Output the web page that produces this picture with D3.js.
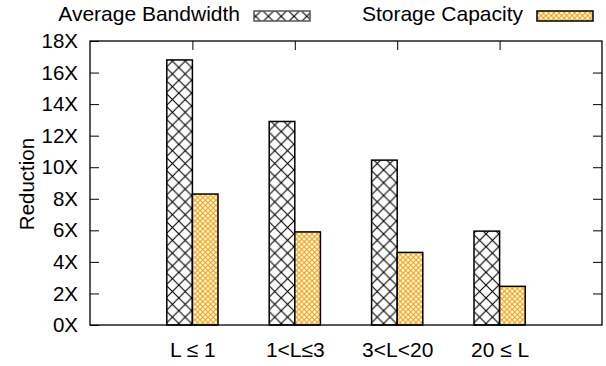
<!DOCTYPE html>
<html><head><meta charset="utf-8">
<script src="https://cdn.jsdelivr.net/npm/d3@7"></script>
<style>body{margin:0;background:#fff}svg{display:block}text{font-family:"Liberation Sans",Arial,sans-serif;fill:#000}</style>
</head><body><svg id="c" width="606" height="366"></svg>
<script>
const categories = ["L \u2264 1", "1<L\u22643", "3<L<20", "20 \u2264 L"];
const seriesNames = ["Average Bandwidth", "Storage Capacity"];
const avgBandwidth = [16.8, 12.9, 10.45, 5.95];
const storageCapacity = [8.3, 5.9, 4.6, 2.45];
const yTicks = [0, 2, 4, 6, 8, 10, 12, 14, 16, 18];

const svg = d3.select("#c");
const L = 90, R = 602, T = 41, B = 325;
const x = d3.scaleLinear().domain([0, 5]).range([L, R]);
const y = d3.scaleLinear().domain([0, 18]).range([B, T]);
const orange = "#F4A20A";

const defs = svg.append("defs");
const pk = 12.8;
const p1 = defs.append("pattern").attr("id", "hatchK").attr("patternUnits", "userSpaceOnUse")
  .attr("width", pk).attr("height", pk).attr("x", 166).attr("y", 3.5);
p1.append("rect").attr("width", pk).attr("height", pk).attr("fill", "#fff");
p1.append("path").attr("d", `M0,0L${pk},${pk}M0,${pk}L${pk},0`).attr("stroke", "#000").attr("stroke-width", 1.1);
const po = 5.2;
const p2 = defs.append("pattern").attr("id", "hatchO").attr("patternUnits", "userSpaceOnUse")
  .attr("width", po).attr("height", po);
p2.append("rect").attr("width", po).attr("height", po).attr("fill", "#fff");
p2.append("path").attr("d", `M0,0L${po},${po}M0,${po}L${po},0`).attr("stroke", orange).attr("stroke-width", 1.1);
p2.append("circle").attr("cx", po / 2).attr("cy", po / 2).attr("r", 0.9).attr("fill", orange);

// bars
const bw = (x(1) - x(0)) * 0.25;
const series = [
  {vals: avgBandwidth, fill: "url(#hatchK)", off: -1},
  {vals: storageCapacity, fill: "url(#hatchO)", off: 0}
];
series.forEach(s => {
  svg.append("g").selectAll("rect").data(s.vals).join("rect")
    .attr("x", (d, i) => x(i + 1) + s.off * bw)
    .attr("y", d => y(d))
    .attr("width", bw)
    .attr("height", d => y(0) - y(d))
    .attr("fill", s.fill)
    .attr("stroke", "#000").attr("stroke-width", 1.5);
});

// axes
const yAxisL = d3.axisLeft(y).tickValues(yTicks).tickSize(-9).tickPadding(12).tickFormat(d => d + "X");
const gy = svg.append("g").attr("transform", `translate(${L},0)`).call(yAxisL);
gy.select(".domain").remove();
gy.selectAll("text").style("font-size", "20.5px").attr("fill", "#000");
const yAxisR = d3.axisRight(y).tickValues(yTicks.slice(1, -1)).tickSize(-9).tickFormat("");
const gyr = svg.append("g").attr("transform", `translate(${R},0)`).call(yAxisR);
gyr.select(".domain").remove();
const xAxisT = d3.axisTop(x).tickValues([1, 2, 3, 4]).tickSize(-9).tickFormat("");
const gxt = svg.append("g").attr("transform", `translate(0,${T})`).call(xAxisT);
gxt.select(".domain").remove();
const xAxisB = d3.axisBottom(x).tickValues([1, 2, 3, 4]).tickSize(0).tickPadding(17).tickFormat((d) => categories[d - 1]);
const gxb = svg.append("g").attr("transform", `translate(0,${B})`).call(xAxisB);
gxb.select(".domain").remove();
gxb.selectAll("text").style("font-size", "21px").attr("fill", "#000");
svg.selectAll(".tick line").attr("stroke", "#000");

svg.append("rect").attr("x", L).attr("y", T).attr("width", R - L).attr("height", B - T)
  .attr("fill", "none").attr("stroke", "#000").attr("stroke-width", 1.3);

svg.append("text").attr("transform", `translate(34,${(T + B) / 2 + 1}) rotate(-90)`)
  .attr("text-anchor", "middle").style("font-size", "20.5px").text("Reduction");

// legend
const leg = [
  {name: seriesNames[0], tx: 240, sx: 254, fill: "url(#hatchK)", stroke: "#555"},
  {name: seriesNames[1], tx: 523, sx: 537, fill: "url(#hatchO)", stroke: "#000"}
];
leg.forEach(l => {
  svg.append("text").attr("x", l.tx).attr("y", 21).attr("text-anchor", "end")
    .style("font-size", "21px").text(l.name);
  svg.append("rect").attr("x", l.sx).attr("y", 11).attr("width", 56).attr("height", 10)
    .attr("fill", l.fill).attr("stroke", l.stroke).attr("stroke-width", 1.5);
});
</script></body></html>
